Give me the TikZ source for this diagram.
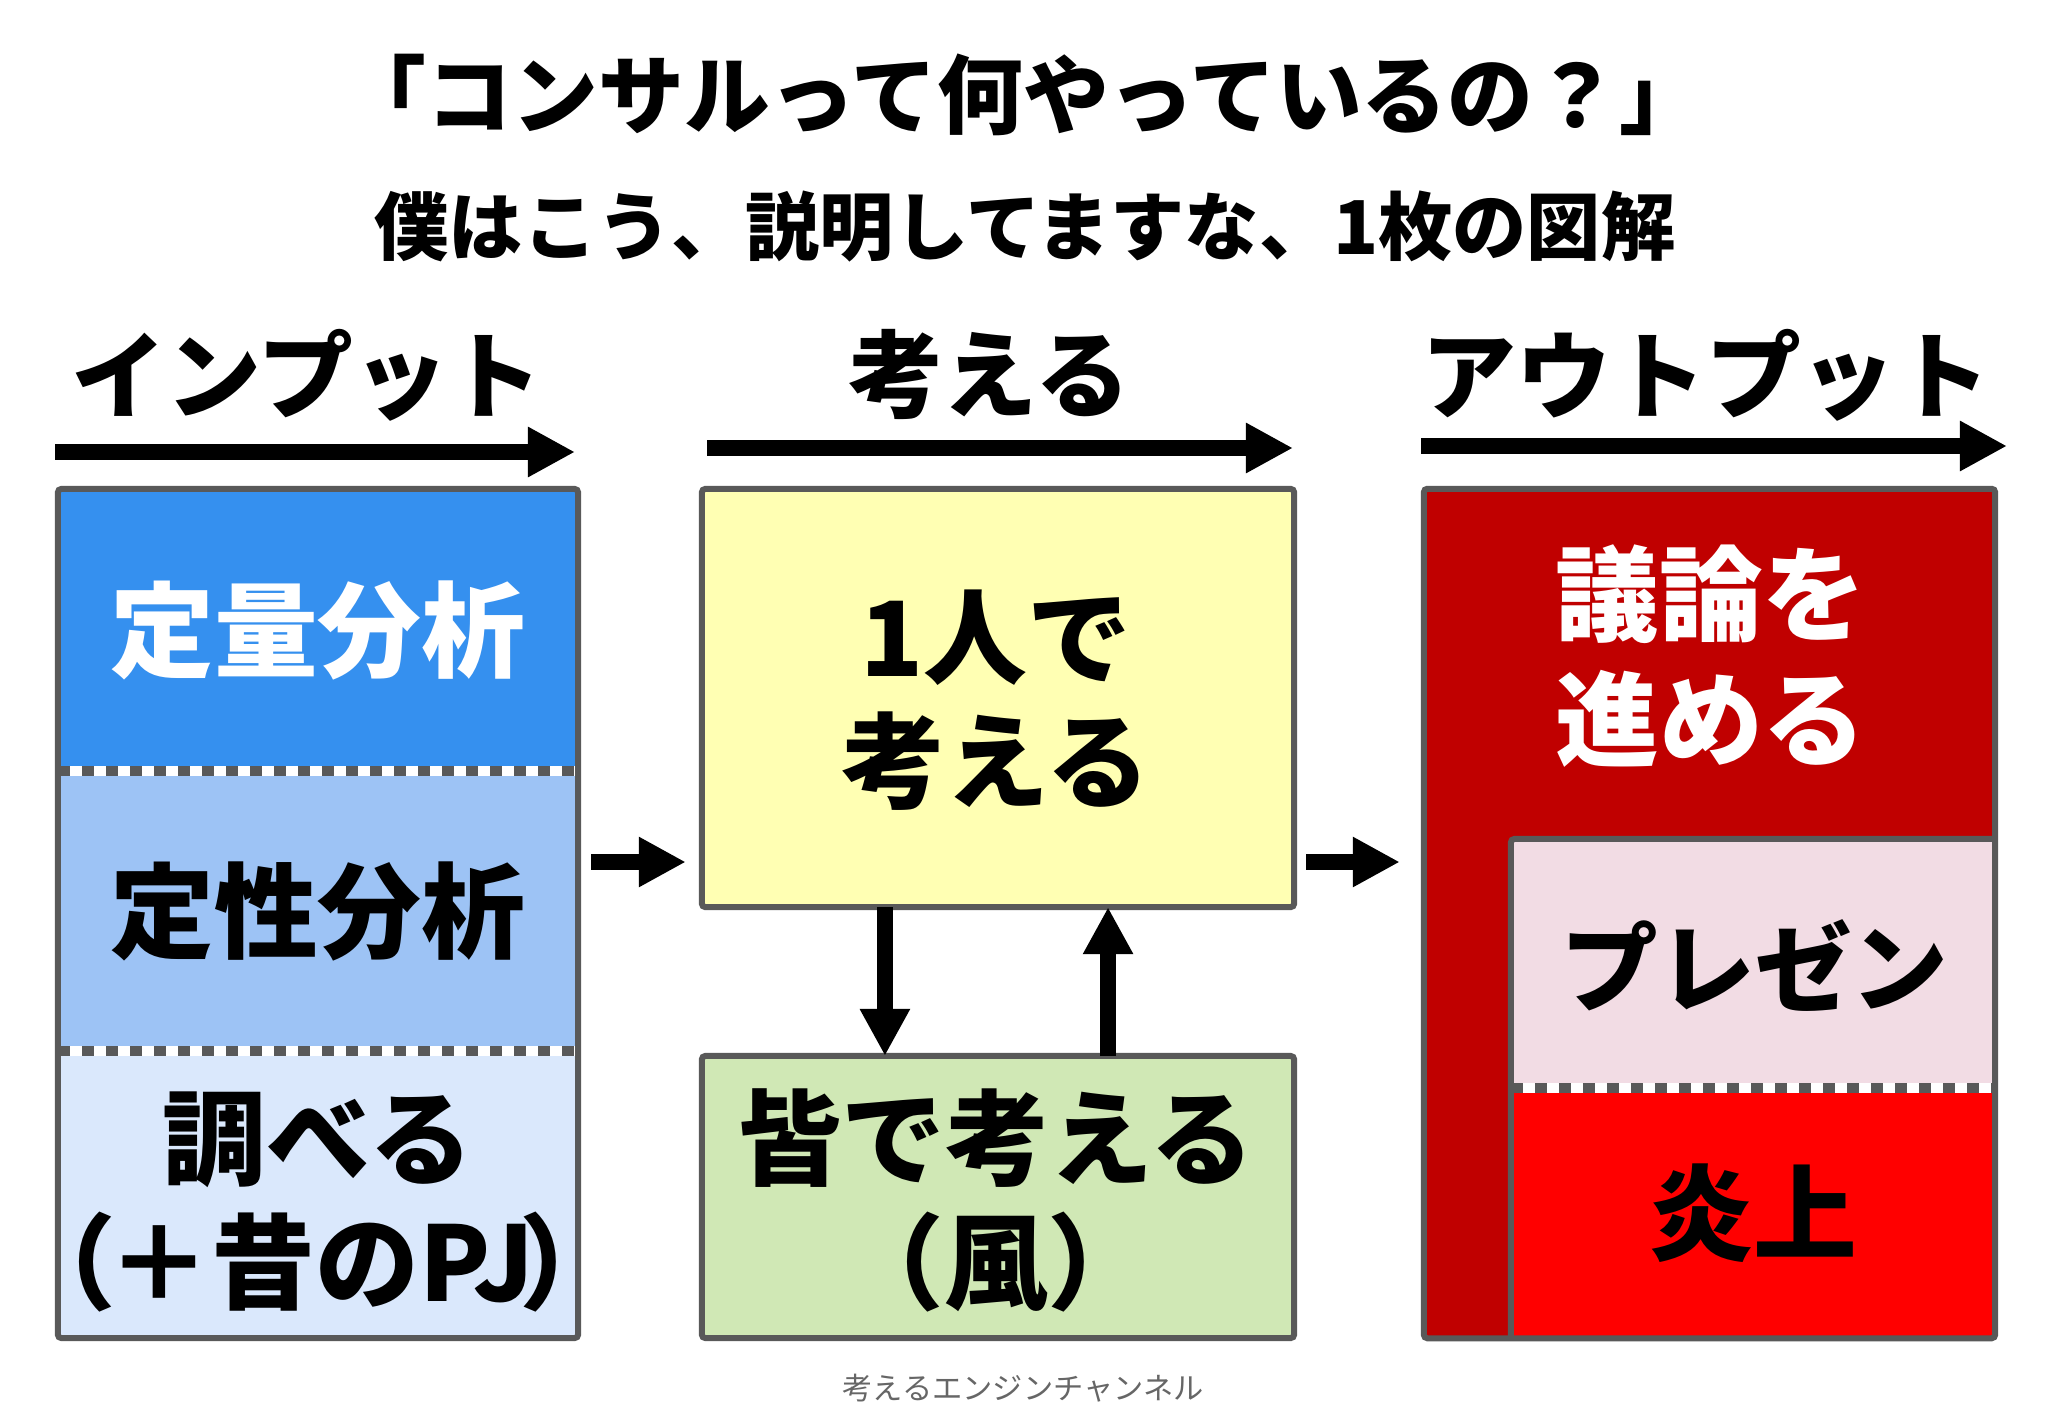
\documentclass[tikz,border=0pt]{standalone}
\usepackage{fontspec}
\setmainfont{Noto Sans CJK JP}
\usetikzlibrary{arrows.meta}
\definecolor{edgegray}{HTML}{595959}
\definecolor{blueA}{HTML}{3590EF}
\definecolor{blueB}{HTML}{9DC3F5}
\definecolor{blueC}{HTML}{DAE8FC}
\definecolor{yellowA}{HTML}{FFFFB3}
\definecolor{greenA}{HTML}{D0E8B5}
\definecolor{darkredA}{HTML}{C00000}
\definecolor{pinkA}{HTML}{F2DCE4}
\definecolor{redA}{HTML}{FF0000}
\tikzstyle{panel}=[inner sep=0pt,outer sep=0pt]
\tikzstyle{border}=[draw=edgegray,line width=0.06cm,rounded corners=1pt]
\tikzstyle{arr} = [draw,line width=0.16cm,-{Triangle[length=0.47cm,width=0.47cm]}]
\tikzstyle{head} = [font=\fontsize{27}{32}\selectfont\bfseries]
\tikzstyle{lbl} = [align=center,font=\fontsize{29.5}{35.3}\selectfont\bfseries]
\tikzstyle{sepwhite} = [draw=white,line width=0.1cm]
\tikzstyle{sepdash} = [draw=edgegray,line width=0.1cm,dash pattern=on 0.12cm off 0.12cm]

\begin{document}
\begin{tikzpicture}[x=0.01cm,y=-0.01cm]
    \useasboundingbox (0,0) rectangle (2048,1418);

    % title
    \node[font=\fontsize{24.4}{29}\selectfont\bfseries] (title) at (1023,95) {「コンサルって何やっているの？」};
    \node[font=\fontsize{21.1}{26}\selectfont\bfseries] (subtitle) at (1025,227) {僕はこう、説明してますな、1枚の図解};

    % headers and their arrows
    \foreach \pos/\name/\txt in {{(307,375)/hin/インプット}, {(989,375)/hthink/考える},
    {(1706,375)/hout/アウトプット}}
        \node[head] (\name) at \pos {\txt};
    \foreach \name/\a/\b/\y in {ain/55/575/452,athink/707/1293/448,aout/1421/2007/446} {
        \coordinate (\name0) at (\a,\y);
        \coordinate (\name1) at (\b,\y);
        \path[arr] (\name0) -- (\name1);
    }

    % input column
    \node[panel,fill=blueA,minimum width=5.20cm,minimum height=2.82cm] (quant) at (318,630) {};
    \node[panel,fill=blueB,minimum width=5.20cm,minimum height=2.80cm] (qual) at (318,911) {};
    \node[panel,fill=blueC,minimum width=5.20cm,minimum height=2.87cm] (study) at (318,1194.5) {};
    \node[lbl,text=white] (quantt) at (quant) {定量分析};
    \node[lbl] (qualt) at (qual) {定性分析};
    \node[lbl] (studyt) at (318,1202) {調べる\\（\kern-0.08em＋昔のPJ\kern-0.14em）};
    \foreach \s in {quant,qual} {
        \path[sepwhite] (\s.south west) -- (\s.south east);
        \path[sepdash] (\s.south west) -- (\s.south east);
    }
    \draw[border] (quant.north west) rectangle (study.south east);

    % thinking
    \node[panel,fill=yellowA,minimum width=5.92cm,minimum height=4.18cm] (think) at (998,698) {};
    \node[panel,fill=greenA,minimum width=5.92cm,minimum height=2.82cm] (group) at (998,1197) {};
    \node[lbl] (thinkt) at (996,700) {1人で\\考える};
    \node[lbl] (groupt) at (996,1200) {皆で考える\\（風）};
    \draw[border] (think.north west) rectangle (think.south east);
    \draw[border] (group.north west) rectangle (group.south east);

    % output
    \node[panel,fill=darkredA,minimum width=5.71cm,minimum height=8.49cm] (out) at (1709.5,913.5) {};
    \node[panel,fill=pinkA,minimum width=4.84cm,minimum height=2.49cm] (pres) at (1753,963.5) {};
    \node[panel,fill=redA,minimum width=4.84cm,minimum height=2.50cm] (fire) at (1753,1213) {};
    \node[lbl,text=white] (outt) at (1711,656) {議論を\\進める};
    \node[lbl,font=\fontsize{27.5}{33}\selectfont\bfseries] (prest) at (1755,966) {プレゼン};
    \node[lbl] (firet) at (fire) {炎上};
    \path[sepwhite] (pres.south west) -- (pres.south east);
    \path[sepdash] (pres.south west) -- (pres.south east);
    \draw[border] (pres.north east) -- (pres.north west) -- (fire.south west);
    \draw[border] (out.north west) rectangle (out.south east);

    % flow
    \coordinate (lvl) at (0,862);
    \path[arr] ([xshift=0.13cm]qual.east |- lvl) -- ([xshift=-0.16cm]think.west |- lvl);
    \path[arr] ([xshift=0.12cm]think.east |- lvl) -- ([xshift=-0.24cm]out.west |- lvl);
    \path[arr] ([xshift=-1.13cm]think.south) -- ([xshift=-1.13cm]group.north);
    \path[arr] ([xshift=1.10cm]group.north) -- ([xshift=1.10cm]think.south);

    % footer
    \node[text=black!60,font=\fontsize{8.6}{10}\selectfont] (footer) at (1023,1388) {考えるエンジンチャンネル};
\end{tikzpicture}
\end{document}
